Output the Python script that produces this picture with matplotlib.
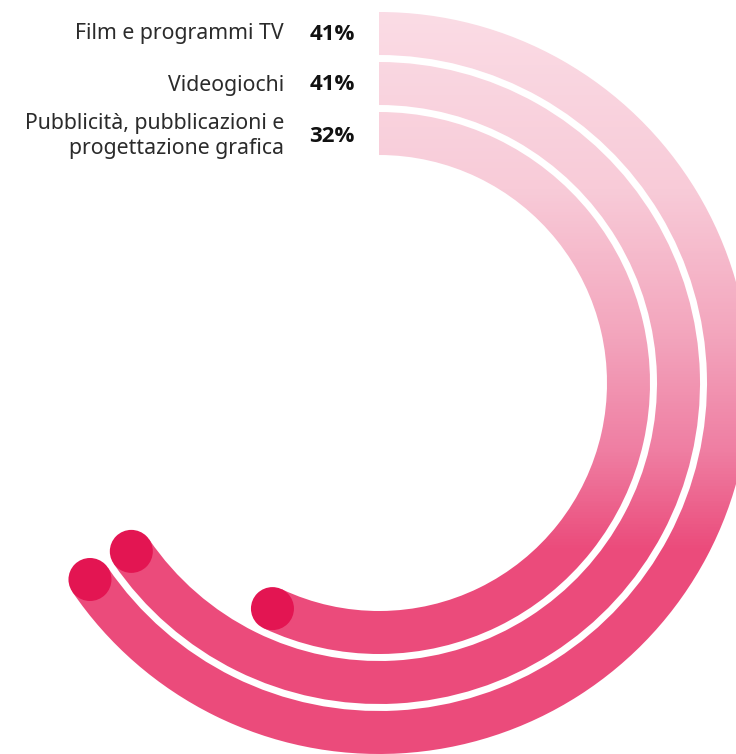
import numpy as np
import matplotlib.pyplot as plt
from matplotlib.patches import Wedge, Circle
from matplotlib.colors import LinearSegmentedColormap

# Dati
categorie = ["Film e programmi TV", "Videogiochi",
             "Pubblicità, pubblicazioni e\nprogettazione grafica"]
valori = [41, 41, 32]
etichette = [f"{v}%" for v in valori]

# scala angolare lineare (gradi, senso orario dalle ore 12)
ANGOLO_ZERO = 96.8
GRADI_PER_PUNTO = 3.39

# geometria degli anelli (in pixel)
cx, cy = 379, 383
r_esterno = [371, 321, 271]
spessore = 43
y_label = [34, 85, 136]

fig = plt.figure(figsize=(7.36, 7.54), dpi=100)
ax = fig.add_axes([0, 0, 1, 1])
ax.set_xlim(0, 736)
ax.set_ylim(754, 0)
ax.axis("off")

# sfumatura verticale dal rosa chiaro al rosa acceso
stops = [(0.0, "#fbdde6"), (0.25, "#f8cbd8"), (0.45, "#f3a4bc"),
         (0.6, "#ef7ea2"), (0.73, "#eb4b7b"), (1.0, "#ec4c7c")]
cmap = LinearSegmentedColormap.from_list("rosa", stops)
grad = np.linspace(0, 1, 754).reshape(-1, 1)

for i, v in enumerate(valori):
    ang = ANGOLO_ZERO + GRADI_PER_PUNTO * v
    r = r_esterno[i]
    arco = Wedge((cx, cy), r, -90, -90 + ang, width=spessore,
                 facecolor="none", edgecolor="none")
    ax.add_patch(arco)
    img = ax.imshow(grad, extent=(0, 736, 754, 0), aspect="auto",
                    cmap=cmap, interpolation="bilinear", zorder=1)
    img.set_clip_path(arco)

    # pallino finale
    rm = r - spessore / 2
    t = np.deg2rad(-90 + ang)
    ax.add_patch(Circle((cx + rm * np.cos(t), cy + rm * np.sin(t)), 21.5,
                        facecolor="#e31552", edgecolor="none", zorder=3))

    ax.text(284, y_label[i], categorie[i], ha="right", va="center",
            fontsize=15.3, color="#2b2b2b", family="Noto Sans",
            fontweight="light", linespacing=1.3)
    ax.text(355, y_label[i], etichette[i], ha="right", va="center",
            fontsize=16, fontweight="bold", color="#111111", family="Open Sans")

fig.savefig("out.png", dpi=100)
